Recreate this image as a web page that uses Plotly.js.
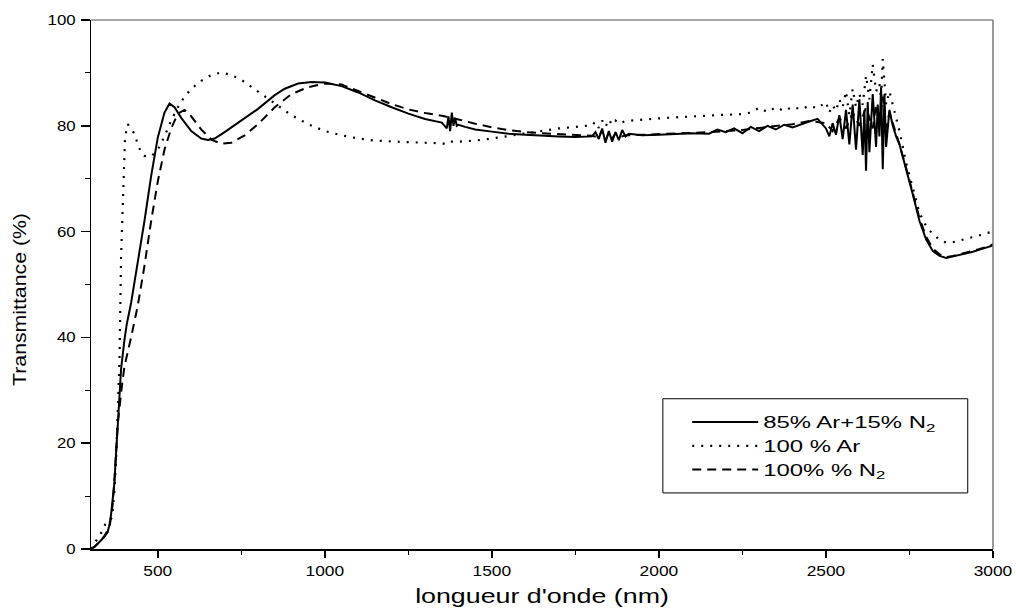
<!DOCTYPE html>
<html>
<head>
<meta charset="utf-8">
<script src="https://cdn.plot.ly/plotly-3.0.1.min.js"></script>
<style>html,body{margin:0;padding:0;background:#fff;}#chart{width:1016px;height:611px;}</style>
</head>
<body>
<div id="chart"></div>
<script>
// 85% Ar+15% N2 (solid)
const wlSolid = [300,310,320,330,340,350,355,360,365,370,375,380,385,390,400,407,420,440,460,480,500,520,535,550,570,600,630,650,670,700,750,800,850,880,920,960,1000,1050,1100,1150,1200,1250,1300,1350,1365,1370,1375,1380,1385,1390,1395,1400,1420,1450,1500,1550,1600,1650,1700,1750,1800,1810,1820,1830,1840,1850,1860,1870,1880,1890,1900,1910,1950,2000,2050,2100,2150,2175,2200,2225,2250,2275,2300,2325,2350,2375,2400,2425,2450,2475,2500,2510,2520,2530,2540,2550,2560,2570,2580,2590,2600,2610,2615,2620,2625,2630,2640,2650,2655,2660,2665,2670,2675,2680,2690,2700,2710,2720,2740,2760,2780,2800,2820,2840,2860,2880,2900,2920,2940,2960,2980,3000];
const tSolid = [0,0.4,1,1.6,2.3,3.2,4.5,6.5,9,12.5,18,24,29.5,34,39.5,42.5,46.5,54,62,70.5,77.8,82.5,84.2,83.5,81.5,79,77.6,77.3,77.6,78.8,81,83.2,85.8,87,88,88.3,88.2,87.5,86.3,84.8,83.5,82.3,81.3,80.6,79.5,81.8,79,82.5,80,81.5,80,80.2,79.8,79.3,78.9,78.5,78.3,78.1,78,77.9,78,78.8,77.5,79.5,76.8,79,77,78.8,77.3,79.2,78,78.5,78.2,78.3,78.4,78.6,78.5,79.3,78.8,79.5,78.6,79.8,79,80,79.3,80.2,79.7,80.3,80.8,81.3,79.5,78,80.5,78.3,82,77.5,83,76.5,84,75.5,85,74.5,83,71.5,84.5,75,86,76,84,78,87.3,71.8,86,76,83,80,78,76.5,72,67,62,58.5,56.3,55.4,55,55.3,55.5,55.8,56.2,56.6,57,57.4];

// 100 % Ar (dotted)
const wlDot = [300,310,320,330,343,355,363,370,375,380,385,390,397,402,410,420,430,440,450,460,480,500,520,540,560,580,600,630,660,690,720,750,800,850,900,950,1000,1050,1100,1150,1200,1250,1300,1350,1365,1380,1400,1450,1500,1550,1600,1650,1700,1750,1800,1810,1820,1830,1840,1850,1860,1870,1880,1900,1950,2000,2050,2100,2150,2200,2250,2275,2300,2325,2350,2375,2400,2425,2450,2475,2500,2510,2520,2530,2540,2550,2560,2570,2580,2590,2600,2610,2620,2630,2640,2650,2660,2665,2670,2680,2690,2700,2710,2720,2740,2760,2780,2800,2820,2840,2860,2880,2900,2920,2940,2960,2980,3000];
const tDot = [0,1,2,3,4.7,5.2,6,11,17,25,35,55,68,78,80.3,79.5,78.5,76.5,75,74.3,74.2,75.5,78,81,83.5,85.5,87,88.5,89.6,90.1,89.6,88.7,86.5,84.2,82,80.3,79,78.2,77.6,77.2,77,76.9,76.8,76.7,76.5,77,77,77.2,77.6,78.1,78.6,79.1,79.5,79.8,80.1,80.8,79.6,81,79.8,81.2,80.2,81,80.4,80.9,81.2,81.4,81.6,81.8,82,82.1,82.2,82.5,83.4,82.6,83.5,82.8,83.6,83.1,83.8,83.3,84.5,82.5,83.9,82.8,85,83.5,86.5,82,87,83.5,86,84,89.5,85,91.6,86.5,88,85,92.6,84,86.5,84,81.5,79,73,68,63.5,61,59.5,58.5,57.9,58,58.3,58.6,59,59.3,59.7,60];

// 100% % N2 (dashed)
const wlDash = [300,310,320,330,340,350,357,365,370,375,380,390,400,420,440,460,480,500,520,540,560,580,600,630,660,690,720,760,800,850,900,950,1000,1050,1100,1150,1200,1250,1300,1350,1380,1400,1450,1500,1550,1600,1650,1700,1750,1800,1820,1830,1840,1850,1860,1870,1880,1900,1950,2000,2050,2100,2150,2200,2250,2300,2350,2400,2450,2500,2520,2540,2560,2580,2600,2620,2640,2650,2660,2670,2680,2690,2700,2710,2720,2740,2760,2780,2800,2820,2840,2860,2880,2900,2920,2940,2960,2980,3000];
const tDash = [0,0.4,1,1.6,2.5,3.5,4.7,8.5,13,18,23.5,29.5,34.5,40,46,53.5,62,69.5,75.5,79.5,82.3,83,81.8,79.3,77.4,76.6,76.8,78.2,80.3,83.5,86,87.3,88,87.8,86.6,85.3,84.1,83.1,82.4,81.9,81.5,81.2,80.4,79.7,79.2,78.8,78.6,78.4,78.2,78.1,77.8,79.2,77.3,78.7,77.6,78.6,77.8,78.2,78.3,78.4,78.5,78.6,78.8,79,79.2,79.6,80,80.3,80.9,80.5,79,81.5,79.5,82.5,80,83.5,79.5,84,80,85.5,79.5,82.5,80.5,78.5,76.5,72,67.5,62.5,59,56.8,55.7,55.2,55.4,55.7,56,56.3,56.7,57.1,57.6];

const seriesNames = ['85% Ar+15% N<sub>2</sub>', '100 % Ar', '100% % N<sub>2</sub>'];
const xTickVals = [500,1000,1500,2000,2500,3000];
const xMinorVals = [750,1250,1750,2250,2750];
const yTickVals = [0,20,40,60,80,100];

const FONT = 'Liberation Sans, Arial, sans-serif';

const traces = [
  {x: wlSolid, y: tSolid, name: seriesNames[0], mode: 'lines', line: {color: '#000', width: 2, dash: 'solid'}},
  {x: wlDot, y: tDot, name: seriesNames[1], mode: 'lines', line: {color: '#000', width: 2.2, dash: '2px,7px'}},
  {x: wlDash, y: tDash, name: seriesNames[2], mode: 'lines', line: {color: '#000', width: 2, dash: '9px,6px'}}
];

const layout = {
  width: 1016, height: 611,
  margin: {l: 91, r: 23, t: 20, b: 62},
  paper_bgcolor: '#fff', plot_bgcolor: '#fff',
  font: {family: FONT, color: '#000', size: 14},
  showlegend: true,
  legend: {
    x: 0.661, y: 0.272, xanchor: 'left', yanchor: 'top',
    bgcolor: 'rgba(0,0,0,0)', borderwidth: 0,
    font: {family: FONT, size: 16, color: '#000'},
    itemwidth: 66, tracegroupgap: 0
  },
  xaxis: {
    range: [300, 3000], showgrid: false, zeroline: false,
    showline: true, linecolor: '#000', linewidth: 1.5, mirror: false,
    ticks: 'outside', ticklen: 7, tickwidth: 1.5, tickcolor: '#000',
    tickvals: xTickVals, ticktext: xTickVals.map(String),
    ticklabelstandoff: 2,
    minor: {tickvals: xMinorVals, ticks: 'outside', ticklen: 4, tickwidth: 1, tickcolor: '#000'},
    tickfont: {family: FONT, size: 14},
    title: {text: "longueur d'onde (nm)", font: {family: FONT, size: 20}, standoff: 10}
  },
  yaxis: {
    range: [0, 100], showgrid: false, zeroline: false,
    showline: true, linecolor: '#000', linewidth: 1.5, mirror: false,
    ticks: 'outside', ticklen: 9, tickwidth: 1.5, tickcolor: '#000',
    tickvals: yTickVals, ticktext: yTickVals.map(String),
    ticklabelstandoff: 2,
    minor: {dtick: 10, ticks: 'outside', ticklen: 5, tickwidth: 1, tickcolor: '#000'},
    tickfont: {family: FONT, size: 14},
    title: {text: 'Transmittance (%)', font: {family: FONT, size: 19}, standoff: 20}
  },
  shapes: [
    {type: 'line', xref: 'paper', yref: 'paper', x0: 0, x1: 1, y0: 1, y1: 1, line: {color: '#888', width: 1.5}},
    {type: 'line', xref: 'paper', yref: 'paper', x0: 1, x1: 1, y0: 0, y1: 1, line: {color: '#777', width: 1.5}},
    {type: 'rect', xref: 'paper', yref: 'paper', x0: 0.634, x1: 0.972, y0: 0.106, y1: 0.284, line: {color: '#000', width: 1}, fillcolor: 'rgba(0,0,0,0)'}
  ]
};

// horizontally stretch a text element around its anchor (reference text is wide)
function stretch(el, sx, pre) {
  const bb = el.getBBox();
  const anchor = el.getAttribute('text-anchor') || 'start';
  const ax = anchor === 'end' ? bb.x + bb.width : (anchor === 'middle' ? bb.x + bb.width / 2 : bb.x);
  const t = el.getAttribute('transform') || '';
  el.setAttribute('transform', (pre || '') + ' ' + t + ' translate(' + ax + ',0) scale(' + sx + ',1) translate(' + (-ax) + ',0)');
}

Plotly.newPlot('chart', traces, layout, {displayModeBar: false, staticPlot: true}).then(function (gd) {
  gd.querySelectorAll('g.xtick text').forEach(function (el) { stretch(el, 1.24); });
  gd.querySelectorAll('g.ytick text').forEach(function (el) { stretch(el, 1.2); });
  // let stretched legend text extend past the auto-sized legend clip
  gd.querySelectorAll('.legend [clip-path]').forEach(function (el) { el.removeAttribute('clip-path'); });
  const leg = gd.querySelectorAll('.legendtext');
  if (leg.length) {
    const f = 172 / leg[0].getBBox().width;
    leg.forEach(function (el) { stretch(el, f); });
  }
  const xt = gd.querySelector('.xtitle');
  if (xt) stretch(xt, 254 / xt.getBBox().width);
  const yt = gd.querySelector('.ytitle');
  if (yt) stretch(yt, 173 / yt.getBBox().width, 'translate(0,15)');
});
</script>
</body>
</html>
